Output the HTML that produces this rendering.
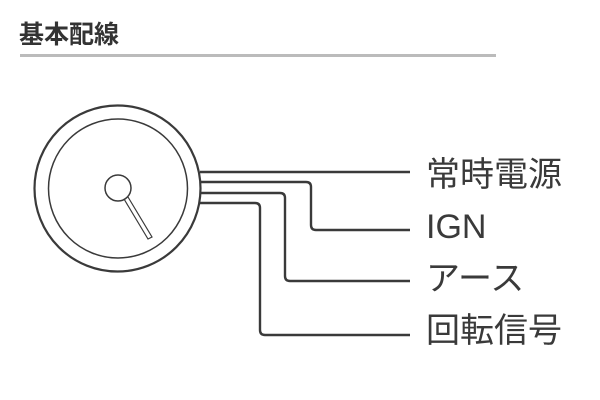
<!DOCTYPE html>
<html><head><meta charset="utf-8"><style>
html,body{margin:0;padding:0;background:#fff;}
body{width:600px;height:400px;position:relative;overflow:hidden;font-family:"Liberation Sans","Noto Sans CJK JP",sans-serif;}
.t{position:absolute;left:19px;top:18px;font-size:25px;font-weight:bold;color:#333;line-height:34px;}
.rule{position:absolute;left:20px;top:54px;width:476px;height:3px;background:#bbb;}
.l{position:absolute;left:426px;font-size:34px;color:#3a3a3a;line-height:40px;}
</style></head><body>
<div class="t">基本配線</div>
<div class="rule"></div>
<svg width="600" height="400" style="position:absolute;left:0;top:0" fill="none" stroke="#3a3a3a">
<circle cx="117.5" cy="188.5" r="83" stroke-width="2.2"/>
<circle cx="118" cy="188.5" r="69.5" stroke-width="1.5"/>
<circle cx="118" cy="188" r="13" stroke-width="1.5"/>
<path d="M124 199 L148 239 L152 237 L128 197" stroke-width="1.2"/>
<g stroke-width="2.4">
<path d="M200 172 H410"/>
<path d="M201 182 H306 Q311 182 311 187 V225 Q311 230 316 230 H410"/>
<path d="M201 193 H280 Q285 193 285 198 V276 Q285 281 290 281 H410"/>
<path d="M200 203 H255 Q260 203 260 208 V330 Q260 335 265 335 H410"/>
</g>
</svg>
<div class="l" style="top:155px">常時電源</div>
<div class="l" style="top:207px">IGN</div>
<div class="l" style="top:259px">アース</div>
<div class="l" style="top:311px">回転信号</div>
</body></html>
